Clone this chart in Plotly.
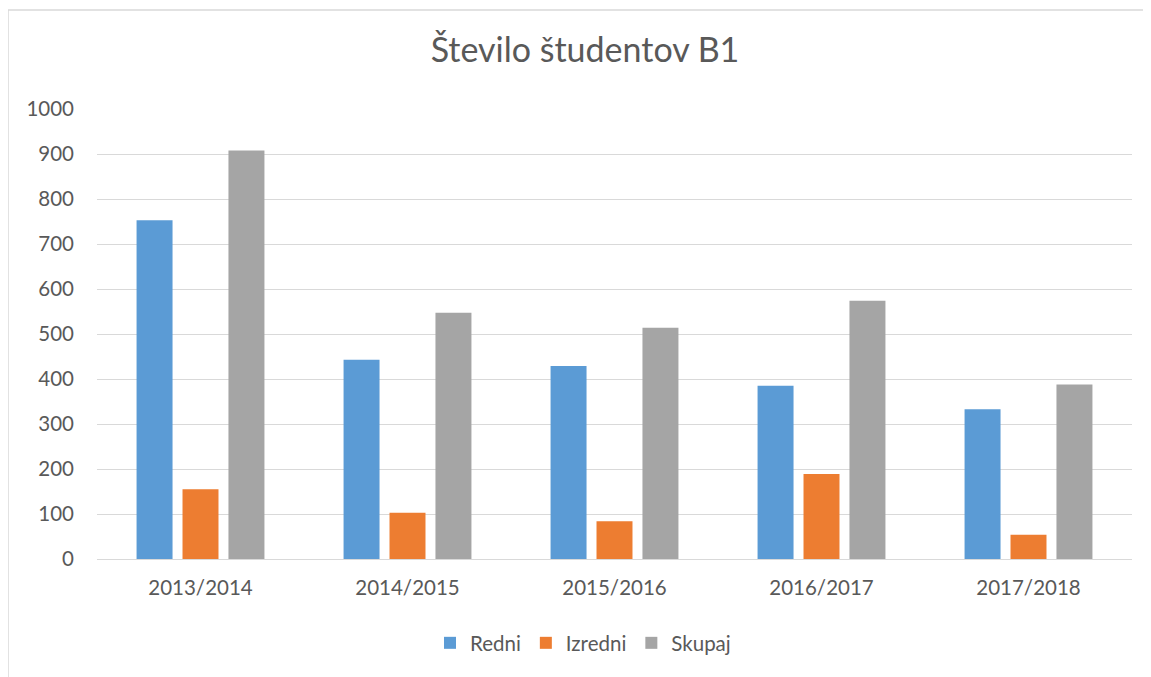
import plotly.graph_objects as go

categories = ["2013/2014", "2014/2015", "2015/2016", "2016/2017", "2017/2018"]
redni = [753, 443, 429, 385, 333]
izredni = [155, 103, 84, 189, 54]
skupaj = [908, 547, 514, 574, 388]
series_names = ["Redni", "Izredni", "Skupaj"]
colors = ["#5B9BD5", "#ED7D31", "#A5A5A5"]

FONT = "Lato, 'Open Sans', sans-serif"
TXT = "#595959"

# page is offset by the 8px body margin; figure coords = page coords - 8
OFF = 8
FW, FH = 1151 - OFF, 677 - OFF

fig = go.Figure()
for name, vals, col in zip(series_names, [redni, izredni, skupaj], colors):
    fig.add_trace(go.Bar(name=name, x=categories, y=vals, marker_color=col,
                         marker_line_width=0))

# plot area in page coords: x 97..1132, y 109..559
L, R, T, B = 97 - OFF, 1132 - OFF, 109 - OFF, 559 - OFF
W, H = R - L, B - T
def px(x):
    return (x - OFF - L) / W
def py(y):
    return (B - (y - OFF)) / H

fig.update_layout(
    width=FW, height=FH,
    margin=dict(l=L, r=FW - R, t=T, b=FH - B, autoexpand=False),
    paper_bgcolor="white", plot_bgcolor="white",
    barmode="group", bargap=0.334, bargroupgap=0.217,
    font=dict(family=FONT, color=TXT, size=20),
    title=dict(text="Število študentov B1", x=(585 - OFF) / FW, xanchor="center",
               y=1 - (50 - OFF) / FH, yanchor="middle",
               font=dict(size=34, color=TXT, family=FONT)),
    xaxis=dict(showgrid=False, showline=True, linecolor="#d9d9d9", linewidth=1,
               ticks="", ticklabelstandoff=10,
               tickfont=dict(size=20.5, color=TXT), fixedrange=True),
    yaxis=dict(range=[0, 1000], dtick=100, showgrid=True, gridcolor="#d9d9d9",
               gridwidth=1, zeroline=False, ticks="", ticklabelstandoff=22,
               tickfont=dict(size=20.5, color=TXT), fixedrange=True),
    legend=dict(orientation="h", x=(583 - OFF) / FW, xanchor="center", xref="container",
                y=1 - (643 - OFF) / FH, yref="container", yanchor="middle",
                font=dict(size=20.5, color=TXT), itemsizing="constant",
                traceorder="normal"),
    showlegend=True,
    shapes=[
        dict(type="line", xref="paper", yref="paper", x0=px(8), x1=px(1151),
             y0=py(10), y1=py(10), line=dict(color="#d9d9d9", width=1.5)),
        dict(type="line", xref="paper", yref="paper", x0=px(8), x1=px(8),
             y0=py(10), y1=py(677), line=dict(color="#d9d9d9", width=1.5)),
    ],
)

fig.write_html("out.html")
